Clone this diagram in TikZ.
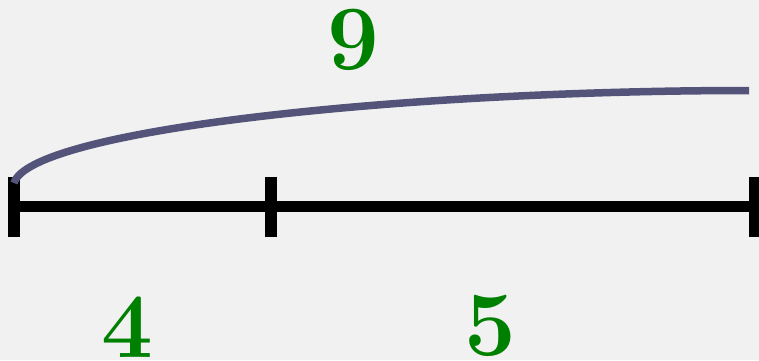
\documentclass[tikz,border=0pt]{standalone}
\usepackage{tikz}
\usepackage{xcolor}
\usetikzlibrary{positioning}

\definecolor{paper}{RGB}{241,241,241}
\definecolor{curveblue}{RGB}{84,84,122}
\definecolor{numgreen}{RGB}{0,128,0}

\begin{document}
\begin{tikzpicture}[
    x=0.5pt, y=0.5pt,
    seg/.style={line width=5.75pt, black},
    tickmark/.style={line width=6pt, black},
    arcline/.style={line width=3.75pt, curveblue},
    num/.style={
        font=\fontsize{46}{46}\selectfont\bfseries,
        text=numgreen,
        inner sep=2pt
    }
]

\fill[paper] (0,0) rectangle (759,360);
\useasboundingbox (0,0) rectangle (759,360);

\coordinate (left) at (14,153.5);
\coordinate (mid) at (271,153.5);
\coordinate (right) at (755,153.5);
\coordinate (arcstart) at (14,177);
\coordinate (arcend) at (749,269.5);

\draw[seg] (left) -- (right);
\draw[tickmark] (left) +(0,30) -- +(0,-30);
\draw[tickmark] (mid) +(0,30) -- +(0,-30);
\draw[tickmark] (right) +(0,30) -- +(0,-30);

\draw[arcline] (arcstart) .. controls +(16,53) and +(-349,0) .. (arcend);

\node[num] (total) at (353,320) {9};
\node[num] (first) at (127,33) {4};
\node[num] (second) at (490,34) {5};

\end{tikzpicture}
\end{document}
